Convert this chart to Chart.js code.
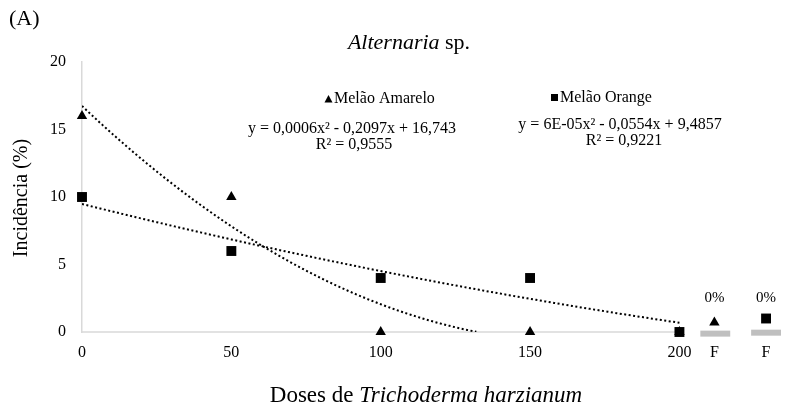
<!DOCTYPE html>
<html>
<head>
<meta charset="utf-8">
<script src="https://cdn.jsdelivr.net/npm/chart.js@4.4.1/dist/chart.umd.min.js"></script>
<style>
html,body{margin:0;padding:0;background:#fff;}
#wrap{width:788px;height:412px;}
</style>
</head>
<body>
<div id="wrap"><canvas id="c" width="788" height="412"></canvas></div>
<script>
// ---- data ----
const doses = [0, 50, 100, 150, 200];
const amareloValues = [16, 10, 0, 0, 0];
const orangeValues = [10, 6, 4, 4, 0];
const xTickValues = [0, 50, 100, 150, 200, 211.7, 229];
const xTickLabels = ['0', '50', '100', '150', '200', 'F', 'F'];
const yTickLabels = [0, 5, 10, 15, 20];
// fungicide control (F) markers, 0% incidence
const fControlX = [211.7, 229];
const fControlMarkerY = [0.7, 1.0];
const fControlBarX = [[207, 217], [224, 234]];
const fControlLabels = ['0%', '0%'];
const eqAmarelo = ['y = 0,0006x² - 0,2097x + 16,743', 'R² = 0,9555'];
const eqOrange = ['y = 6E-05x² - 0,0554x + 9,4857', 'R² = 0,9221'];
const seriesNames = ['Melão Amarelo', 'Melão Orange'];

// least-squares quadratic (Excel-style polynomial trendline)
function polyfit2(xs, ys) {
  let S = [0,0,0,0,0], T = [0,0,0];
  for (let i = 0; i < xs.length; i++) {
    let p = 1;
    for (let k = 0; k < 5; k++) { S[k] += p; if (k < 3) T[k] += p * ys[i]; p *= xs[i]; }
  }
  const A = [[S[0],S[1],S[2],T[0]],[S[1],S[2],S[3],T[1]],[S[2],S[3],S[4],T[2]]];
  for (let i = 0; i < 3; i++) {
    for (let j = i + 1; j < 3; j++) {
      const f = A[j][i] / A[i][i];
      for (let k = i; k < 4; k++) A[j][k] -= f * A[i][k];
    }
  }
  const c = [0,0,0];
  for (let i = 2; i >= 0; i--) {
    let s = A[i][3];
    for (let k = i + 1; k < 3; k++) s -= A[i][k] * c[k];
    c[i] = s / A[i][i];
  }
  return c; // a + b x + c x^2
}
function trend(xs, ys) {
  const c = polyfit2(xs, ys);
  const pts = [];
  for (let x = xs[0]; x <= xs[xs.length - 1] + 1e-9; x += 1) {
    const y = c[0] + c[1] * x + c[2] * x * x;
    pts.push({x: x, y: y >= 0 ? y : null});
  }
  return pts;
}
const toPts = (xs, ys) => xs.map((x, i) => ({x: x, y: ys[i]}));

const SERIF = "'Liberation Serif', 'Times New Roman', serif";

const textPlugin = {
  id: 'texts',
  afterDraw(chart) {
    const ctx = chart.ctx;
    const xs = chart.scales.x;
    ctx.save();
    ctx.fillStyle = '#000';
    ctx.textBaseline = 'middle';
    // (A)
    ctx.font = '22px ' + SERIF;
    ctx.textAlign = 'left';
    ctx.fillText('(A)', 9, 19);
    function mixed(parts, cx, cy) {
      let w = 0;
      parts.forEach(p => { ctx.font = p[1]; w += ctx.measureText(p[0]).width; });
      let x = cx - w / 2;
      ctx.textAlign = 'left';
      parts.forEach(p => { ctx.font = p[1]; ctx.fillText(p[0], x, cy); x += ctx.measureText(p[0]).width; });
    }
    mixed([['Alternaria', 'italic 22px ' + SERIF], [' sp.', '22px ' + SERIF]], 409, 43);
    mixed([['Doses de ', '23px ' + SERIF], ['Trichoderma harzianum', 'italic 23px ' + SERIF]], 426, 396);
    // y title
    ctx.save();
    ctx.translate(22, 198);
    ctx.rotate(-Math.PI / 2);
    ctx.font = '20px ' + SERIF;
    ctx.textAlign = 'center';
    ctx.fillText('Incidência (%)', 0, 0);
    ctx.restore();
    // legends
    ctx.font = '16px ' + SERIF;
    ctx.textAlign = 'left';
    ctx.beginPath();
    ctx.moveTo(328.5, 95); ctx.lineTo(332.5, 102.5); ctx.lineTo(324.5, 102.5); ctx.closePath(); ctx.fill();
    ctx.fillText(seriesNames[0], 334, 99);
    ctx.fillRect(551, 94, 7, 7);
    ctx.fillText(seriesNames[1], 560, 98);
    // equations
    ctx.textAlign = 'center';
    ctx.fillText(eqAmarelo[0], 352, 129);
    ctx.fillText(eqAmarelo[1], 354, 145);
    ctx.fillText(eqOrange[0], 620, 125);
    ctx.fillText(eqOrange[1], 624, 141);
    // 0% labels
    ctx.font = '15px ' + SERIF;
    fControlX.forEach((x, i) => {
      ctx.fillText(fControlLabels[i], xs.getPixelForValue(x), 298);
    });
    ctx.restore();
  }
};

new Chart(document.getElementById('c'), {
  type: 'scatter',
  data: {
    datasets: [
      { // x axis line
        data: toPts([0, 200], [0, 0]), showLine: true, borderColor: '#d9d9d9', borderWidth: 1.5,
        pointRadius: 0, clip: false, order: 10
      },
      { data: toPts(fControlBarX[0], [-0.12, -0.12]), showLine: true, borderColor: '#bfbfbf', borderWidth: 6,
        borderCapStyle: 'butt', pointRadius: 0, clip: false, order: 9 },
      { data: toPts(fControlBarX[1], [-0.05, -0.05]), showLine: true, borderColor: '#bfbfbf', borderWidth: 6,
        borderCapStyle: 'butt', pointRadius: 0, clip: false, order: 9 },
      { // trend Amarelo
        data: trend(doses, amareloValues), showLine: true, borderColor: '#000', borderWidth: 2,
        borderDash: [2, 2.5], pointRadius: 0, spanGaps: false, order: 5
      },
      { // trend Orange
        data: trend(doses, orangeValues), showLine: true, borderColor: '#000', borderWidth: 2,
        borderDash: [2, 2.5], pointRadius: 0, order: 5
      },
      {
        label: seriesNames[0], data: toPts(doses, amareloValues).concat([{x: fControlX[0], y: fControlMarkerY[0]}]),
        pointStyle: 'triangle', pointRadius: 6, backgroundColor: '#000', borderColor: '#000', borderWidth: 0,
        clip: false, order: 2
      },
      {
        label: seriesNames[1], data: toPts(doses, orangeValues).concat([{x: fControlX[1], y: fControlMarkerY[1]}]),
        pointStyle: 'rect', pointRadius: 7, backgroundColor: '#000', borderColor: '#000', borderWidth: 0,
        clip: false, order: 1
      }
    ]
  },
  options: {
    responsive: false,
    animation: false,
    events: [],
    layout: { padding: { top: 62, right: 4, bottom: 0, left: 0 } },
    plugins: { legend: { display: false }, tooltip: { enabled: false }, title: { display: false } },
    scales: {
      x: {
        type: 'linear', min: 0, max: 234,
        grid: { display: false, drawTicks: false },
        border: { display: false },
        afterBuildTicks: (s) => { s.ticks = xTickValues.map(v => ({value: v})); },
        afterFit: (s) => { s.height = 80; },
        ticks: {
          padding: 11, color: '#000', font: { family: SERIF, size: 16 }, maxRotation: 0, autoSkip: false,
          callback: (v) => { const i = xTickValues.indexOf(v); return i >= 0 ? xTickLabels[i] : ''; }
        }
      },
      y: {
        type: 'linear', min: 0, max: 20,
        grid: { display: false, drawTicks: false },
        border: { display: true, color: '#d9d9d9', width: 1.5 },
        afterBuildTicks: (s) => { s.ticks = yTickLabels.map(v => ({value: v})); },
        afterFit: (s) => { s.width = 82; },
        ticks: { padding: 16, color: '#000', font: { family: SERIF, size: 16 } }
      }
    }
  },
  plugins: [textPlugin]
});
</script>
</body>
</html>
